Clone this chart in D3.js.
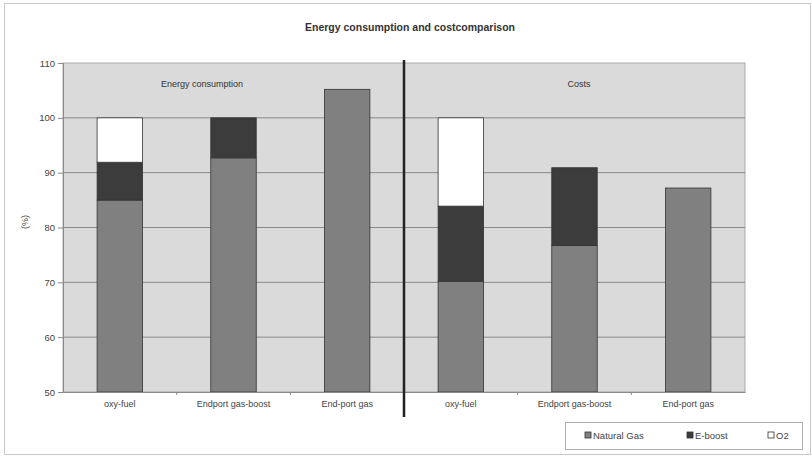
<!DOCTYPE html>
<html>
<head>
<meta charset="utf-8">
<script src="https://cdn.jsdelivr.net/npm/d3@7"></script>
<style>
  body { margin: 0; background: #fff; }
  svg { font-family: "Liberation Sans", Arial, sans-serif; }
</style>
</head>
<body>
<div class="graph"></div>
<script>
const categories = ['oxy-fuel', 'Endport gas-boost', 'End-port gas', 'oxy-fuel ', 'Endport gas-boost ', 'End-port gas '];
const labels = ['oxy-fuel', 'Endport gas-boost', 'End-port gas', 'oxy-fuel', 'Endport gas-boost', 'End-port gas'];
const naturalGas = [85, 92.7, 105.2, 70.2, 76.7, 87.2];
const eBoost = [6.9, 7.3, 0, 13.7, 14.2, 0];
const o2 = [8.1, 0, 0, 16.1, 0, 0];
const seriesNames = ['Natural Gas', 'E-boost', 'O2'];
const yTicks = [50, 60, 70, 80, 90, 100, 110];
const sectionLabels = ['Energy consumption', 'Costs'];

const W = 812, H = 457;
const plot = { l: 63, r: 745, t: 63, b: 392 };
const colors = ['#808080', '#3c3c3c', '#ffffff'];

const svg = d3.select('.graph').append('svg').attr('width', W).attr('height', H);

// outer chart border
svg.append('rect').attr('x', 4.5).attr('y', 3.5).attr('width', 806).attr('height', 451)
  .attr('fill', '#fff').attr('stroke', '#c8c8c8');

svg.append('text').attr('x', 410).attr('y', 31).attr('text-anchor', 'middle')
  .attr('font-size', 10.5).attr('font-weight', 'bold').attr('fill', '#333')
  .text('Energy consumption and costcomparison');

const x = d3.scaleBand().domain(categories).range([plot.l, plot.r]).paddingInner(0.6).paddingOuter(0.3);
const y = d3.scaleLinear().domain([50, 110]).range([plot.b, plot.t]);

// plot background
svg.append('rect').attr('x', plot.l).attr('y', plot.t).attr('width', plot.r - plot.l).attr('height', plot.b - plot.t)
  .attr('fill', '#dadada').attr('stroke', '#9a9a9a').attr('stroke-width', 0.8);

// gridlines
svg.append('g').selectAll('line').data(yTicks.slice(1, -1)).enter().append('line')
  .attr('x1', plot.l).attr('x2', plot.r)
  .attr('y1', d => y(d)).attr('y2', d => y(d))
  .attr('stroke', '#8a8a8a').attr('stroke-width', 1);

// stacked data
const rows = categories.map((c, i) => ({ cat: c, ng: naturalGas[i], eb: eBoost[i], o2: o2[i] }));
const stack = d3.stack().keys(['ng', 'eb', 'o2'])(rows);

stack.forEach((layer, k) => {
  svg.append('g').selectAll('rect').data(layer.filter(d => d[1] > d[0])).enter().append('rect')
    .attr('x', d => x(d.data.cat))
    .attr('width', x.bandwidth())
    .attr('y', d => y(d[1]))
    .attr('height', d => y(Math.max(50, d[0])) - y(d[1]))
    .attr('fill', colors[k])
    .attr('stroke', '#333').attr('stroke-width', 0.8);
});

// y axis
const yAxis = svg.append('g').attr('transform', `translate(${plot.l},0)`)
  .call(d3.axisLeft(y).tickValues(yTicks).tickSize(5).tickPadding(3));
yAxis.select('.domain').attr('stroke', '#8a8a8a');
yAxis.selectAll('.tick line').attr('stroke', '#8a8a8a');
yAxis.selectAll('text').attr('font-size', 9.5).attr('fill', '#444').attr('font-family', 'Liberation Sans, Arial, sans-serif');

// x axis
const xAxis = svg.append('g').attr('transform', `translate(0,${plot.b})`)
  .call(d3.axisBottom(x).tickSize(0).tickPadding(9).tickFormat((d, i) => labels[i]));
xAxis.select('.domain').attr('stroke', '#8a8a8a');
xAxis.selectAll('text').attr('font-size', 9).attr('fill', '#444').attr('font-family', 'Liberation Sans, Arial, sans-serif');

// small ticks between categories
const step = x.step();
svg.append('g').selectAll('line').data(d3.range(1, categories.length)).enter().append('line')
  .attr('x1', d => plot.l + d * (plot.r - plot.l) / categories.length)
  .attr('x2', d => plot.l + d * (plot.r - plot.l) / categories.length)
  .attr('y1', plot.b).attr('y2', plot.b + 3).attr('stroke', '#8a8a8a');

// divider
const divX = plot.l + 3 * (plot.r - plot.l) / categories.length;
svg.append('line').attr('x1', divX).attr('x2', divX).attr('y1', 60).attr('y2', 417)
  .attr('stroke', '#222').attr('stroke-width', 2.5);

// section labels
svg.append('text').attr('x', 202).attr('y', 87).attr('text-anchor', 'middle')
  .attr('font-size', 9).attr('fill', '#333').text(sectionLabels[0]);
svg.append('text').attr('x', 579).attr('y', 87).attr('text-anchor', 'middle')
  .attr('font-size', 9).attr('fill', '#333').text(sectionLabels[1]);

// y label
svg.append('text').attr('transform', 'translate(28,222) rotate(-90)').attr('text-anchor', 'middle')
  .attr('font-size', 9).attr('fill', '#444').text('(%)');

// legend
const lg = svg.append('g');
lg.append('rect').attr('x', 565.5).attr('y', 422.5).attr('width', 237).attr('height', 27)
  .attr('fill', '#fff').attr('stroke', '#b0b0b0');
const legX = [585, 687, 768];
seriesNames.forEach((s, i) => {
  lg.append('rect').attr('x', legX[i]).attr('y', 432).attr('width', 6).attr('height', 6)
    .attr('fill', colors[i]).attr('stroke', '#333').attr('stroke-width', 0.8);
  lg.append('text').attr('x', legX[i] + 8).attr('y', 438.5).attr('font-size', 9.5).attr('fill', '#444').text(s);
});
</script>
</body>
</html>
